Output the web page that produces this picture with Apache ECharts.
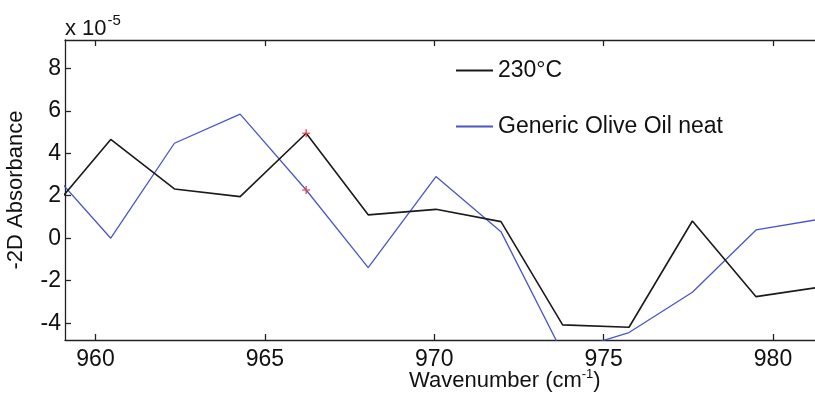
<!DOCTYPE html>
<html>
<head>
<meta charset="utf-8">
<script src="https://cdn.jsdelivr.net/npm/echarts@6/dist/echarts.min.js"></script>
<style>html,body{margin:0;padding:0;background:#fff;}#c{width:815px;height:396px;}</style>
</head>
<body>
<div id="c"></div>
<script>
var wavenumber = [958.55, 960.45, 962.33, 964.27, 966.22, 968.05, 970.05, 971.97, 973.79, 975.75, 977.62, 979.5, 981.4];
var black230 = [1.05, 4.65, 2.32, 1.96, 4.94, 1.10, 1.36, 0.78, -4.08, -4.19, 0.81, -2.75, -2.30];
var blueOlive = [3.4, 0.0, 4.47, 5.84, 2.27, -1.38, 2.90, 0.31, -5.40, -4.44, -2.54, 0.39, 0.90];
var markerX = [966.22, 966.22];
var markerY = [4.94, 2.27];
var xTicks = [960, 965, 970, 975, 980];
var yTicks = [-4, -2, 0, 2, 4, 6, 8];
var seriesNames = ['230°C', 'Generic Olive Oil neat'];

var FONT = 'Liberation Sans, Arial, Helvetica, sans-serif';
var chart = echarts.init(document.getElementById('c'), null, {renderer: 'canvas'});

function pairs(xs, ys) { return xs.map(function (x, i) { return [x, ys[i]]; }); }

var axisLineStyle = {color: '#222', width: 1.3};
chart.setOption({
  animation: false,
  backgroundColor: '#fff',
  grid: {left: 65, top: 40, right: 0, bottom: 56, containLabel: false, outerBoundsMode: 'none'},
  legend: {
    data: seriesNames,
    orient: 'vertical',
    left: 456,
    top: 59,
    padding: 0,
    itemWidth: 37,
    itemHeight: 2,
    itemGap: 33,
    icon: 'rect',
    textStyle: {fontFamily: FONT, fontSize: 23, color: '#111', padding: [0, 0, 0, 0]}
  },
  xAxis: [{
    type: 'value', min: 959.1, max: 981.24, position: 'bottom',
    axisLine: {show: true, onZero: false, lineStyle: axisLineStyle},
    axisTick: {show: true, inside: true, length: 6, customValues: xTicks, lineStyle: axisLineStyle},
    axisLabel: {show: true, customValues: xTicks, margin: 8, fontFamily: FONT, fontSize: 23, color: '#111'},
    splitLine: {show: false}
  }, {
    type: 'value', min: 959.1, max: 981.24, position: 'top',
    axisLine: {show: true, onZero: false, lineStyle: axisLineStyle},
    axisTick: {show: true, inside: true, length: 6, customValues: xTicks, lineStyle: axisLineStyle},
    axisLabel: {show: false},
    splitLine: {show: false}
  }],
  yAxis: [{
    type: 'value', min: -4.79, max: 9.33, position: 'left',
    name: '-2D Absorbance', nameLocation: 'middle', nameGap: 38,
    nameTextStyle: {fontFamily: FONT, fontSize: 22, color: '#111'},
    axisLine: {show: true, onZero: false, lineStyle: axisLineStyle},
    axisTick: {show: true, inside: true, length: 6, customValues: yTicks, lineStyle: axisLineStyle},
    axisLabel: {show: true, customValues: yTicks, margin: 4, fontFamily: FONT, fontSize: 23, color: '#111'},
    splitLine: {show: false}
  }],
  graphic: [{
    type: 'text', left: 65, top: 10,
    style: {
      text: '{a|x 10}{b|-5}',
      rich: {
        a: {fontFamily: FONT, fontSize: 22, fill: '#111', lineHeight: 30, padding: [8, 0, 0, 0]},
        b: {fontFamily: FONT, fontSize: 15, fill: '#111', lineHeight: 30, padding: [0, 0, 8, 1]}
      }
    }
  }, {
    type: 'text', left: 409, top: 368,
    style: {
      text: '{a|Wavenumber (cm}{b|-1}{a|)}',
      rich: {
        a: {fontFamily: FONT, fontSize: 22, fill: '#111', lineHeight: 28},
        b: {fontFamily: FONT, fontSize: 13, fill: '#111', lineHeight: 28, padding: [0, 0, 12, 0]}
      }
    }
  }],
  series: [{
    name: seriesNames[0], type: 'line', data: pairs(wavenumber, black230),
    showSymbol: false, symbol: 'none', clip: true,
    lineStyle: {color: '#1a1a1a', width: 1.6}, itemStyle: {color: '#1a1a1a'}, z: 3
  }, {
    name: seriesNames[1], type: 'line', data: pairs(wavenumber, blueOlive),
    showSymbol: false, symbol: 'none', clip: true,
    lineStyle: {color: '#4a55c8', width: 1.3}, itemStyle: {color: '#4a55c8'}, z: 2
  }, {
    name: 'marker', type: 'scatter', data: pairs(markerX, markerY),
    symbol: 'path://M4,0 L6,0 L6,4 L10,4 L10,6 L6,6 L6,10 L4,10 L4,6 L0,6 L0,4 L4,4 Z',
    symbolSize: 8, itemStyle: {color: '#e8414a'}, z: 4
  }]
});
</script>
</body>
</html>
